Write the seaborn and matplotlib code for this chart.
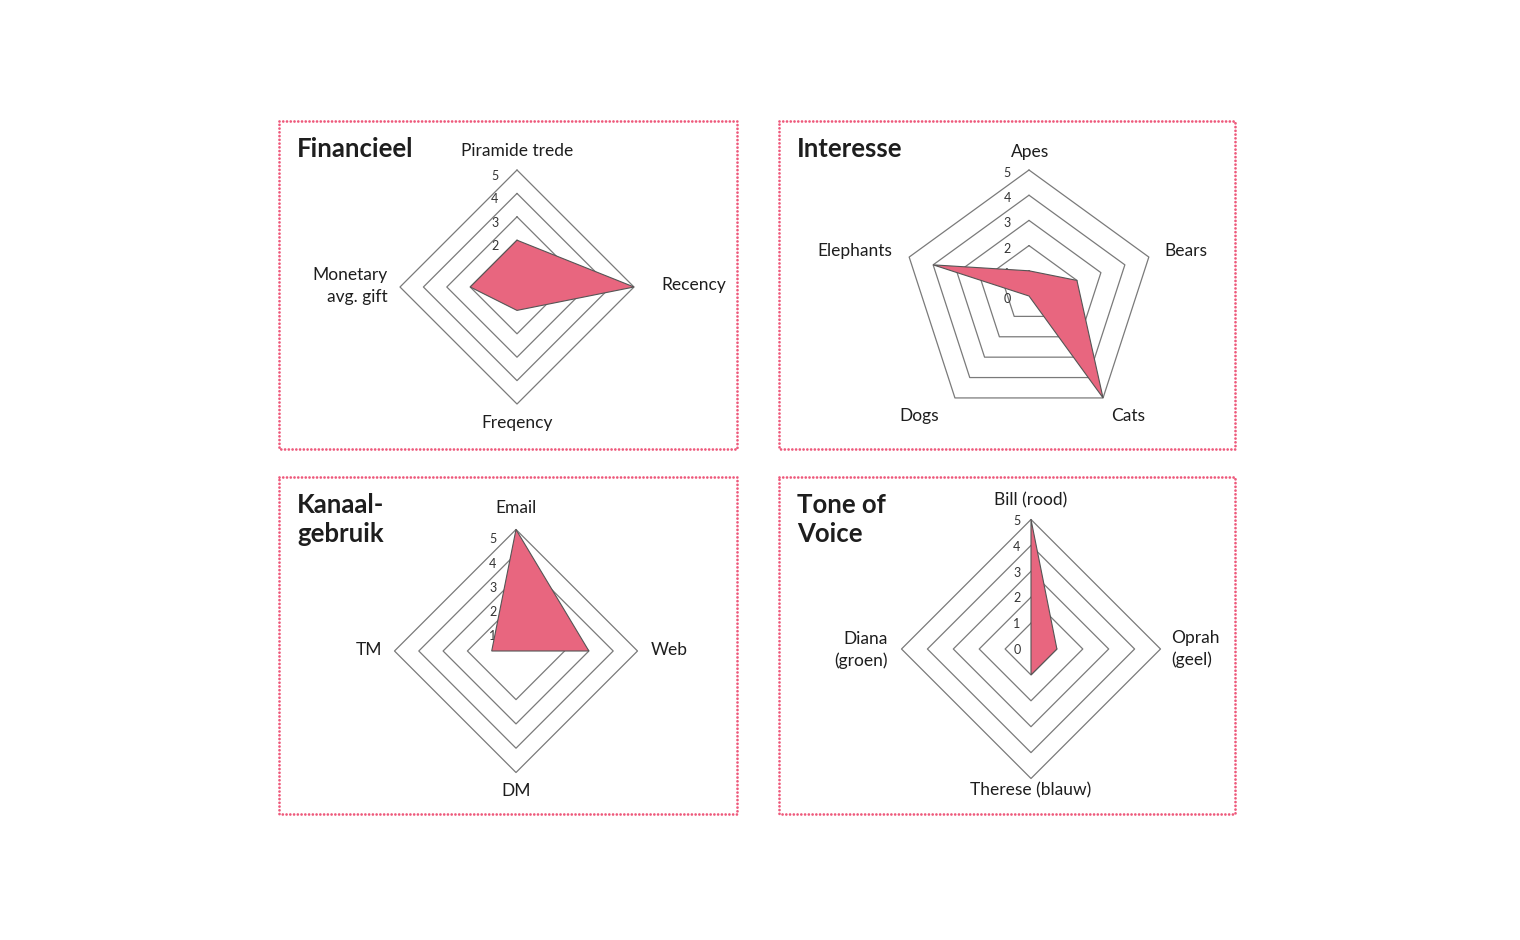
import numpy as np
import matplotlib
matplotlib.use("Agg")
import matplotlib.pyplot as plt
import seaborn as sns
from matplotlib.lines import Line2D

# Data per radar chart (values on a 0-5 scale)
fin_labels = ["Piramide trede", "Recency", "Freqency", "Monetary\navg. gift"]
fin_values = [2, 5, 1, 2]
fin_rings = [2, 3, 4, 5]
fin_ticks = [2, 3, 4, 5]

int_labels = ["Apes", "Bears", "Cats", "Dogs", "Elephants"]
int_values = [1, 2, 5, 0, 4]
int_rings = [1, 2, 3, 4, 5]
int_ticks = [0, 1, 2, 3, 4, 5]

kan_labels = ["Email", "Web", "DM", "TM"]
kan_values = [5, 3, 0, 1]
kan_rings = [2, 3, 4, 5]
kan_ticks = [1, 2, 3, 4, 5]

tov_labels = ["Bill (rood)", "Oprah\n(geel)", "Therese (blauw)", "Diana\n(groen)"]
tov_values = [5, 1, 1, 0]
tov_rings = [1, 2, 3, 4, 5]
tov_ticks = [0, 1, 2, 3, 4, 5]

# Styling
W, H = 1520, 940
PINK = "#EE5A7C"
FILL = "#E8667F"
EDGE = "#555555"
RING = "#7a7a7a"
TXT = "#1e1e1e"

sns.set_theme(style="white")
plt.rcParams["font.family"] = ["Lato", "DejaVu Sans"]

fig = plt.figure(figsize=(W / 100, H / 100), dpi=100)
fig.patch.set_facecolor("white")


def px(x, y):
    return x / W, 1 - y / H


def border(x0, y0, x1, y1):
    xs = [x0, x1, x1, x0, x0]
    ys = [y0, y0, y1, y1, y0]
    fx = [x / W for x in xs]
    fy = [1 - y / H for y in ys]
    fig.add_artist(Line2D(fx, fy, transform=fig.transFigure, color=PINK, lw=2.0,
                          linestyle=(0, (0.001, 1.35)), dash_capstyle="round"))


def radar(cx, cy, scale, values, rings, ticks, tick_dx, tick_dy, half=190):
    l, b = px(cx - half, cy + half)
    ax = fig.add_axes([l, b, 2 * half / W, 2 * half / H])
    lim = half / scale
    ax.set_xlim(-lim, lim)
    ax.set_ylim(-lim, lim)
    ax.set_axis_off()
    n = len(values)
    theta = np.arange(n + 1) * 2 * np.pi / n
    for r in rings:
        sns.lineplot(x=r * np.sin(theta), y=r * np.cos(theta), sort=False,
                     estimator=None, color=RING, lw=0.9, ax=ax)
    v = np.array(values + values[:1], dtype=float)
    ax.fill(v * np.sin(theta), v * np.cos(theta), facecolor=FILL,
            edgecolor=EDGE, lw=0.8, zorder=3)
    for t in ticks:
        ax.text(tick_dx, t + tick_dy, str(t), ha="center", va="center",
                fontsize=9, color="#333333", zorder=2)
    return ax


def label(x, y, s, ha="center", ma=None):
    fx, fy = px(x, y)
    fig.text(fx, fy, s, ha=ha, va="center", fontsize=12.5, color=TXT,
             linespacing=1.4, multialignment=ma or ha)


def title(x, y, s):
    # y is the baseline of the last line
    fx, fy = px(x, y)
    fig.text(fx, fy, s, ha="left", va="baseline", fontsize=18.5,
             fontweight="bold", color=TXT, linespacing=1.25)


# Panel borders
border(279, 121, 737, 449)
border(779, 121, 1235, 449)
border(279, 477, 737, 814)
border(779, 477, 1235, 814)

# Financieel
radar(517, 287, 23.4, fin_values, fin_rings, fin_ticks, -0.95, -0.25)
title(297, 157, "Financieel")
label(517, 151, fin_labels[0])
label(661, 285, fin_labels[1], ha="left")
label(517, 423, fin_labels[2])
label(388, 286, fin_labels[3], ha="right")

# Interesse
radar(1029, 296, 25.2, int_values, int_rings, int_ticks, -0.87, -0.12)
title(797, 157, "Interesse")
label(1030, 152, int_labels[0])
label(1164, 251, int_labels[1], ha="left")
label(1128, 416, int_labels[2])
label(919, 416, int_labels[3])
label(892, 251, int_labels[4], ha="right")

# Kanaalgebruik
radar(516, 651, 24.3, kan_values, kan_rings, kan_ticks, -0.95, -0.4)
title(297, 542, "Kanaal-\ngebruik")
label(516, 508, kan_labels[0])
label(651, 650, kan_labels[1], ha="left")
label(516, 791, kan_labels[2])
label(382, 650, kan_labels[3], ha="right")

# Tone of Voice
radar(1031, 649, 25.9, tov_values, tov_rings, tov_ticks, -0.55, -0.05)
title(797, 542, "Tone of\nVoice")
label(1031, 500, tov_labels[0])
label(1171, 649, tov_labels[1], ha="left")
label(1031, 790, tov_labels[2])
label(888, 650, tov_labels[3], ha="right")

fig.savefig("out.png", dpi=100, facecolor="white")
